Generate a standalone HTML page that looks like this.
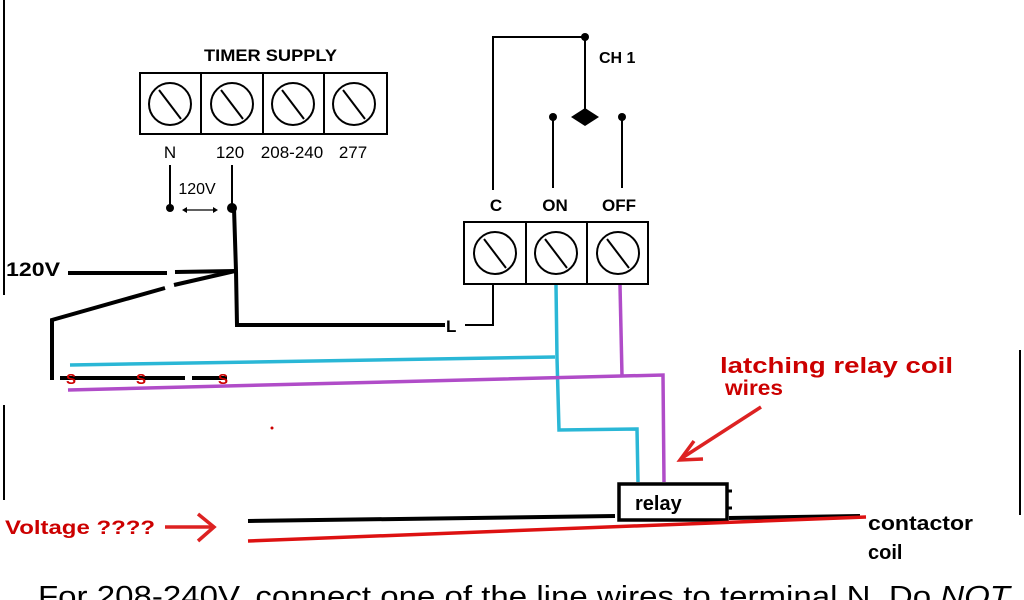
<!DOCTYPE html>
<html><head><meta charset="utf-8"><style>
html,body{margin:0;padding:0;background:#fff;width:1024px;height:600px;overflow:hidden}
text{font-family:"Liberation Sans",sans-serif}
</style></head><body>
<svg width="1024" height="600" viewBox="0 0 1024 600" xmlns="http://www.w3.org/2000/svg">
<defs>
<g id="scr"><circle r="21" fill="none" stroke="#000" stroke-width="2"/><line x1="-11" y1="-14" x2="11" y2="15" stroke="#000" stroke-width="2"/></g>
</defs>
<line x1="4" y1="0" x2="4" y2="295" stroke="#000" stroke-width="2"/>
<line x1="4" y1="405" x2="4" y2="500" stroke="#000" stroke-width="2"/>
<line x1="1020" y1="350" x2="1020" y2="515" stroke="#000" stroke-width="2"/>
<text x="204" y="61" font-size="17" font-weight="bold" textLength="133" lengthAdjust="spacingAndGlyphs">TIMER SUPPLY</text>
<rect x="140" y="73" width="247" height="61" fill="none" stroke="#000" stroke-width="2"/>
<line x1="201" y1="73" x2="201" y2="134" stroke="#000" stroke-width="2"/>
<line x1="263" y1="73" x2="263" y2="134" stroke="#000" stroke-width="2"/>
<line x1="324" y1="73" x2="324" y2="134" stroke="#000" stroke-width="2"/>
<use href="#scr" x="170" y="104"/><use href="#scr" x="232" y="104"/><use href="#scr" x="293" y="104"/><use href="#scr" x="354" y="104"/>
<g font-size="17" text-anchor="middle"><text x="170" y="158">N</text><text x="230" y="158">120</text><text x="292" y="158">208-240</text><text x="353" y="158">277</text></g>
<line x1="170" y1="165" x2="170" y2="206" stroke="#000" stroke-width="2"/>
<line x1="232" y1="165" x2="232" y2="206" stroke="#000" stroke-width="2"/>
<circle cx="170" cy="208" r="4"/><circle cx="232" cy="208" r="5"/>
<text x="197" y="194" font-size="16" text-anchor="middle">120V</text>
<line x1="184" y1="210" x2="216" y2="210" stroke="#000" stroke-width="1.2"/>
<path d="M182 210 l5 -3 v6z M218 210 l-5 -3 v6z"/>
<g stroke="#000" stroke-width="4" fill="none">
<polyline points="234,208 236,271 237,325 445,325"/>
<line x1="68" y1="273" x2="167" y2="273"/><line x1="175" y1="272" x2="235" y2="271"/>
<polyline points="165,288 52,320 52,380"/><line x1="174" y1="285" x2="235" y2="271"/>
<line x1="60" y1="378" x2="185" y2="378"/><line x1="192" y1="378" x2="227" y2="378"/>
</g>
<text x="446" y="332" font-size="17" font-weight="bold">L</text>
<text x="6" y="276" font-size="19" font-weight="bold" textLength="54" lengthAdjust="spacingAndGlyphs">120V</text>
<g font-size="15" fill="#c00" font-weight="bold"><text x="66" y="384">S</text><text x="136" y="384">S</text><text x="218" y="384">S</text></g>
<g fill="none" stroke-width="3.5">
<polyline stroke="#2ab7d6" points="70,365 555,357"/>
<polyline stroke="#2ab7d6" points="556,285 557,358 559,430 637,429 638,482"/>
<polyline stroke="#b04cc8" points="68,390 663,375 664,482"/>
<polyline stroke="#b04cc8" points="620,285 622,376"/>
</g>
<g stroke="#000" stroke-width="2" fill="none">
<polyline points="493,190 493,37 585,37 585,110"/>
<line x1="553" y1="117" x2="553" y2="188"/><line x1="622" y1="117" x2="622" y2="188"/>
<rect x="464" y="222" width="184" height="62"/>
<line x1="526" y1="222" x2="526" y2="284"/><line x1="587" y1="222" x2="587" y2="284"/>
<polyline points="493,284 493,325 465,325"/>
</g>
<circle cx="585" cy="37" r="4"/><circle cx="553" cy="117" r="4"/><circle cx="622" cy="117" r="4"/>
<path d="M571 117 L585 108 L599 117 L585 126Z"/>
<text x="599" y="63" font-size="16" font-weight="bold">CH 1</text>
<g font-size="17" font-weight="bold" text-anchor="middle"><text x="496" y="211">C</text><text x="555" y="211">ON</text><text x="619" y="211">OFF</text></g>
<use href="#scr" x="495" y="253"/><use href="#scr" x="556" y="253"/><use href="#scr" x="618" y="253"/>
<rect x="619" y="484" width="108" height="36" fill="#fff" stroke="#000" stroke-width="3.5"/>
<line x1="728" y1="491" x2="732" y2="491" stroke="#000" stroke-width="3"/><line x1="728" y1="508" x2="732" y2="508" stroke="#000" stroke-width="3"/>
<text x="635" y="510" font-size="20" font-weight="bold">relay</text>
<line x1="248" y1="521" x2="615" y2="516" stroke="#000" stroke-width="4"/>
<line x1="729" y1="518" x2="860" y2="516" stroke="#000" stroke-width="4"/>
<line x1="248" y1="541" x2="866" y2="517" stroke="#d11" stroke-width="3.5"/>
<text x="868" y="530" font-size="20" font-weight="bold" textLength="105" lengthAdjust="spacingAndGlyphs">contactor</text>
<text x="868" y="559" font-size="20" font-weight="bold">coil</text>
<text x="5" y="534" font-size="19" font-weight="bold" fill="#c00" textLength="150" lengthAdjust="spacingAndGlyphs">Voltage ????</text>
<g stroke="#d22" stroke-width="3.5" fill="none"><line x1="165" y1="527" x2="213" y2="527"/><polyline points="198,514 214,527 198,541"/></g>
<text x="720" y="373" font-size="22" font-weight="bold" fill="#c00" textLength="233" lengthAdjust="spacingAndGlyphs">latching relay coil</text>
<text x="725" y="395" font-size="21" font-weight="bold" fill="#c00" textLength="58" lengthAdjust="spacingAndGlyphs">wires</text>
<g stroke="#d22" stroke-width="3.5" fill="none"><line x1="761" y1="407" x2="682" y2="458"/><polyline points="694,441 680,460 703,459"/></g>
<text x="38" y="606" font-size="29" textLength="972" lengthAdjust="spacingAndGlyphs">For 208-240V, connect one of the line wires to terminal N. Do <tspan font-style="italic">NOT</tspan></text>
<circle cx="272" cy="428" r="1.5" fill="#c00"/>
</svg>
</body></html>
